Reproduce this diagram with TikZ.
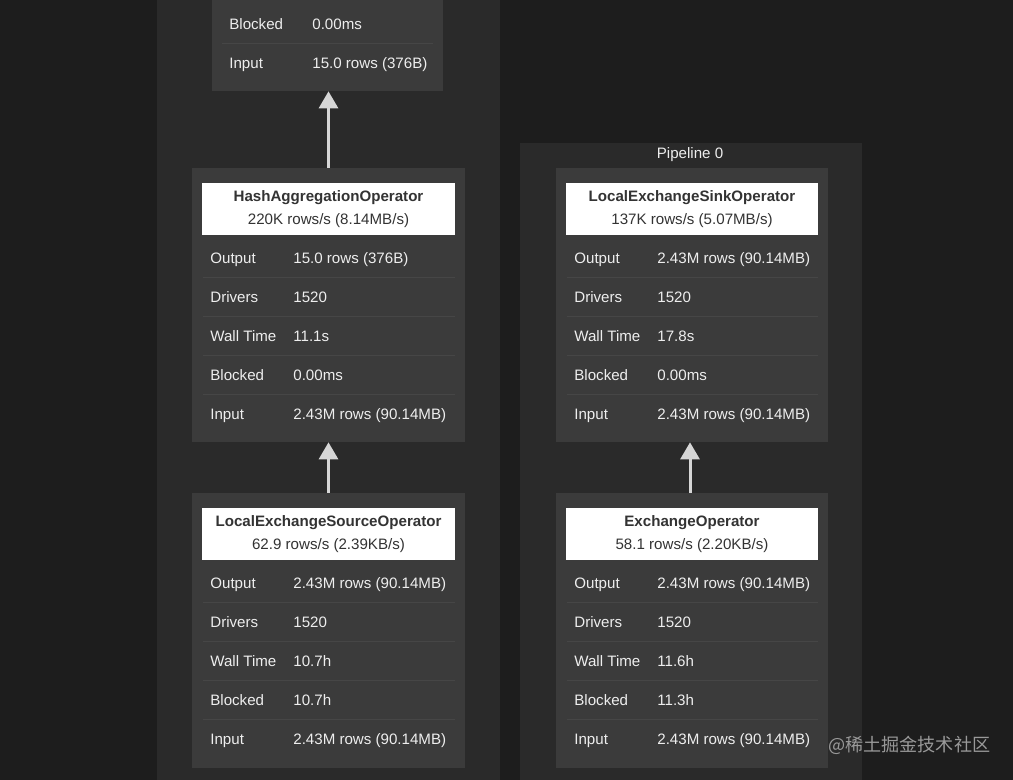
\documentclass[tikz,border=0pt]{standalone}
\usepackage{fontspec}
\setmainfont{Liberation Sans}
\newfontfamily\cjkfont{Noto Sans CJK SC}
\usepackage{tikz}
\usetikzlibrary{arrows.meta}
\usetikzlibrary{positioning}

\definecolor{bgdark}{HTML}{1D1D1D}
\definecolor{panelgray}{HTML}{2A2A2A}
\definecolor{boxgray}{HTML}{3B3B3B}
\definecolor{sepgray}{HTML}{464646}
\definecolor{txtlight}{HTML}{EEEEEE}
\definecolor{txtdark}{HTML}{333333}
\definecolor{arrowgray}{HTML}{D6D6D6}

\begin{document}
\begin{tikzpicture}[x=0.02cm, y=-0.02cm,
		every node/.style={font=\fontsize{8.6}{13}\selectfont, text=txtlight, inner sep=0pt},
		panel/.style={fill=panelgray},
		opbox/.style={fill=boxgray, minimum width=5.46cm, minimum height=5.5cm},
		header/.style={fill=white, text=txtdark, minimum width=5.06cm, minimum height=1.04cm, align=center},
		lbl/.style={anchor=west, text height=8pt, text depth=1.8pt},
		sep/.style={draw=sepgray, line width=0.6pt},
		flow/.style={draw=arrowgray, line width=1.7pt, -{Triangle[length=0.34cm, width=0.38cm]}}]
			\useasboundingbox (0,0) rectangle (1013,780);
			\clip (0,0) rectangle (1013,780);
			\fill[bgdark] (0,0) rectangle (1013,780);
			
			% pipelines
			\fill[panel] (157,-10) rectangle (500,790);
			\fill[panel] (520,143) rectangle (862,790);
			\node[text height=8pt, text depth=1.8pt] (pipe0) at (690,153) {Pipeline 0};
			
			% operator boxes
			\node[opbox, minimum width=4.62cm, minimum height=3.82cm] (topop) at (327.5,-4.5) {};
			\node[opbox, minimum height=5.48cm] (hashagg) at (328.5,305) {};
			\node[opbox] (lesource) at (328.5,630.5) {};
			\node[opbox, minimum width=5.44cm, minimum height=5.48cm] (lesink) at (692,305) {};
			\node[opbox, minimum width=5.44cm] (exchange) at (692,630.5) {};
			
			\node[header, below=0.3cm of hashagg.north] (hashagghead) {\textbf{HashAggregationOperator}\\220K rows/s (8.14MB/s)};
			\node[header, below=0.3cm of lesource.north] (lesourcehead) {\textbf{LocalExchangeSourceOperator}\\62.9 rows/s (2.39KB/s)};
			\node[header, minimum width=5.04cm, below=0.3cm of lesink.north] (lesinkhead) {\textbf{LocalExchangeSinkOperator}\\137K rows/s (5.07MB/s)};
			\node[header, minimum width=5.04cm, below=0.3cm of exchange.north] (exchangehead) {\textbf{ExchangeOperator}\\58.1 rows/s (2.20KB/s)};
			
			% row separators
			\foreach \y in {277.5, 316.5, 355.5, 394.5, 602.5, 641.5, 680.5, 719.5} {
				\draw[sep] (203,\y) -- (455,\y);
				\draw[sep] (567,\y) -- (818,\y);
			}
			\draw[sep] (222,43.5) -- (433,43.5);
			
			% top operator
			\node[lbl] (topblk) at (229,24) {Blocked};
			\node[lbl] (topblkv) at (312,24) {0.00ms};
			\node[lbl] (topin) at (229,63) {Input};
			\node[lbl] (topinv) at (312,63) {15.0 rows (376B)};
			
			% HashAggregationOperator
			\node[lbl] (haout) at (210,258) {Output};
			\node[lbl] (haoutv) at (293,258) {15.0 rows (376B)};
			\node[lbl] (hadrv) at (210,297) {Drivers};
			\node[lbl] (hadrvv) at (293,297) {1520};
			\node[lbl] (hawall) at (210,336) {Wall Time};
			\node[lbl] (hawallv) at (293,336) {11.1s};
			\node[lbl] (hablk) at (210,375) {Blocked};
			\node[lbl] (hablkv) at (293,375) {0.00ms};
			\node[lbl] (hain) at (210,414) {Input};
			\node[lbl] (hainv) at (293,414) {2.43M rows (90.14MB)};
			
			% LocalExchangeSourceOperator
			\node[lbl] (lsout) at (210,583) {Output};
			\node[lbl] (lsoutv) at (293,583) {2.43M rows (90.14MB)};
			\node[lbl] (lsdrv) at (210,622) {Drivers};
			\node[lbl] (lsdrvv) at (293,622) {1520};
			\node[lbl] (lswall) at (210,661) {Wall Time};
			\node[lbl] (lswallv) at (293,661) {10.7h};
			\node[lbl] (lsblk) at (210,700) {Blocked};
			\node[lbl] (lsblkv) at (293,700) {10.7h};
			\node[lbl] (lsin) at (210,739) {Input};
			\node[lbl] (lsinv) at (293,739) {2.43M rows (90.14MB)};
			
			% LocalExchangeSinkOperator
			\node[lbl] (lkout) at (574,258) {Output};
			\node[lbl] (lkoutv) at (657,258) {2.43M rows (90.14MB)};
			\node[lbl] (lkdrv) at (574,297) {Drivers};
			\node[lbl] (lkdrvv) at (657,297) {1520};
			\node[lbl] (lkwall) at (574,336) {Wall Time};
			\node[lbl] (lkwallv) at (657,336) {17.8s};
			\node[lbl] (lkblk) at (574,375) {Blocked};
			\node[lbl] (lkblkv) at (657,375) {0.00ms};
			\node[lbl] (lkin) at (574,414) {Input};
			\node[lbl] (lkinv) at (657,414) {2.43M rows (90.14MB)};
			
			% ExchangeOperator
			\node[lbl] (exout) at (574,583) {Output};
			\node[lbl] (exoutv) at (657,583) {2.43M rows (90.14MB)};
			\node[lbl] (exdrv) at (574,622) {Drivers};
			\node[lbl] (exdrvv) at (657,622) {1520};
			\node[lbl] (exwall) at (574,661) {Wall Time};
			\node[lbl] (exwallv) at (657,661) {11.6h};
			\node[lbl] (exblk) at (574,700) {Blocked};
			\node[lbl] (exblkv) at (657,700) {11.3h};
			\node[lbl] (exin) at (574,739) {Input};
			\node[lbl] (exinv) at (657,739) {2.43M rows (90.14MB)};
			
			% data flow
			\draw[flow] (hashagg.north) -- (hashagg.north |- topop.south);
			\draw[flow] (lesource.north) -- (hashagg.south);
			\draw[flow] (exchange.north -| 690,0) -- (lesink.south -| 690,0);
			
			\node[lbl, text=gray!80, font=\cjkfont\fontsize{10.3}{12}\selectfont] (mark) at (828,746) {@稀土掘金技术社区};
		\end{tikzpicture}
\end{document}
